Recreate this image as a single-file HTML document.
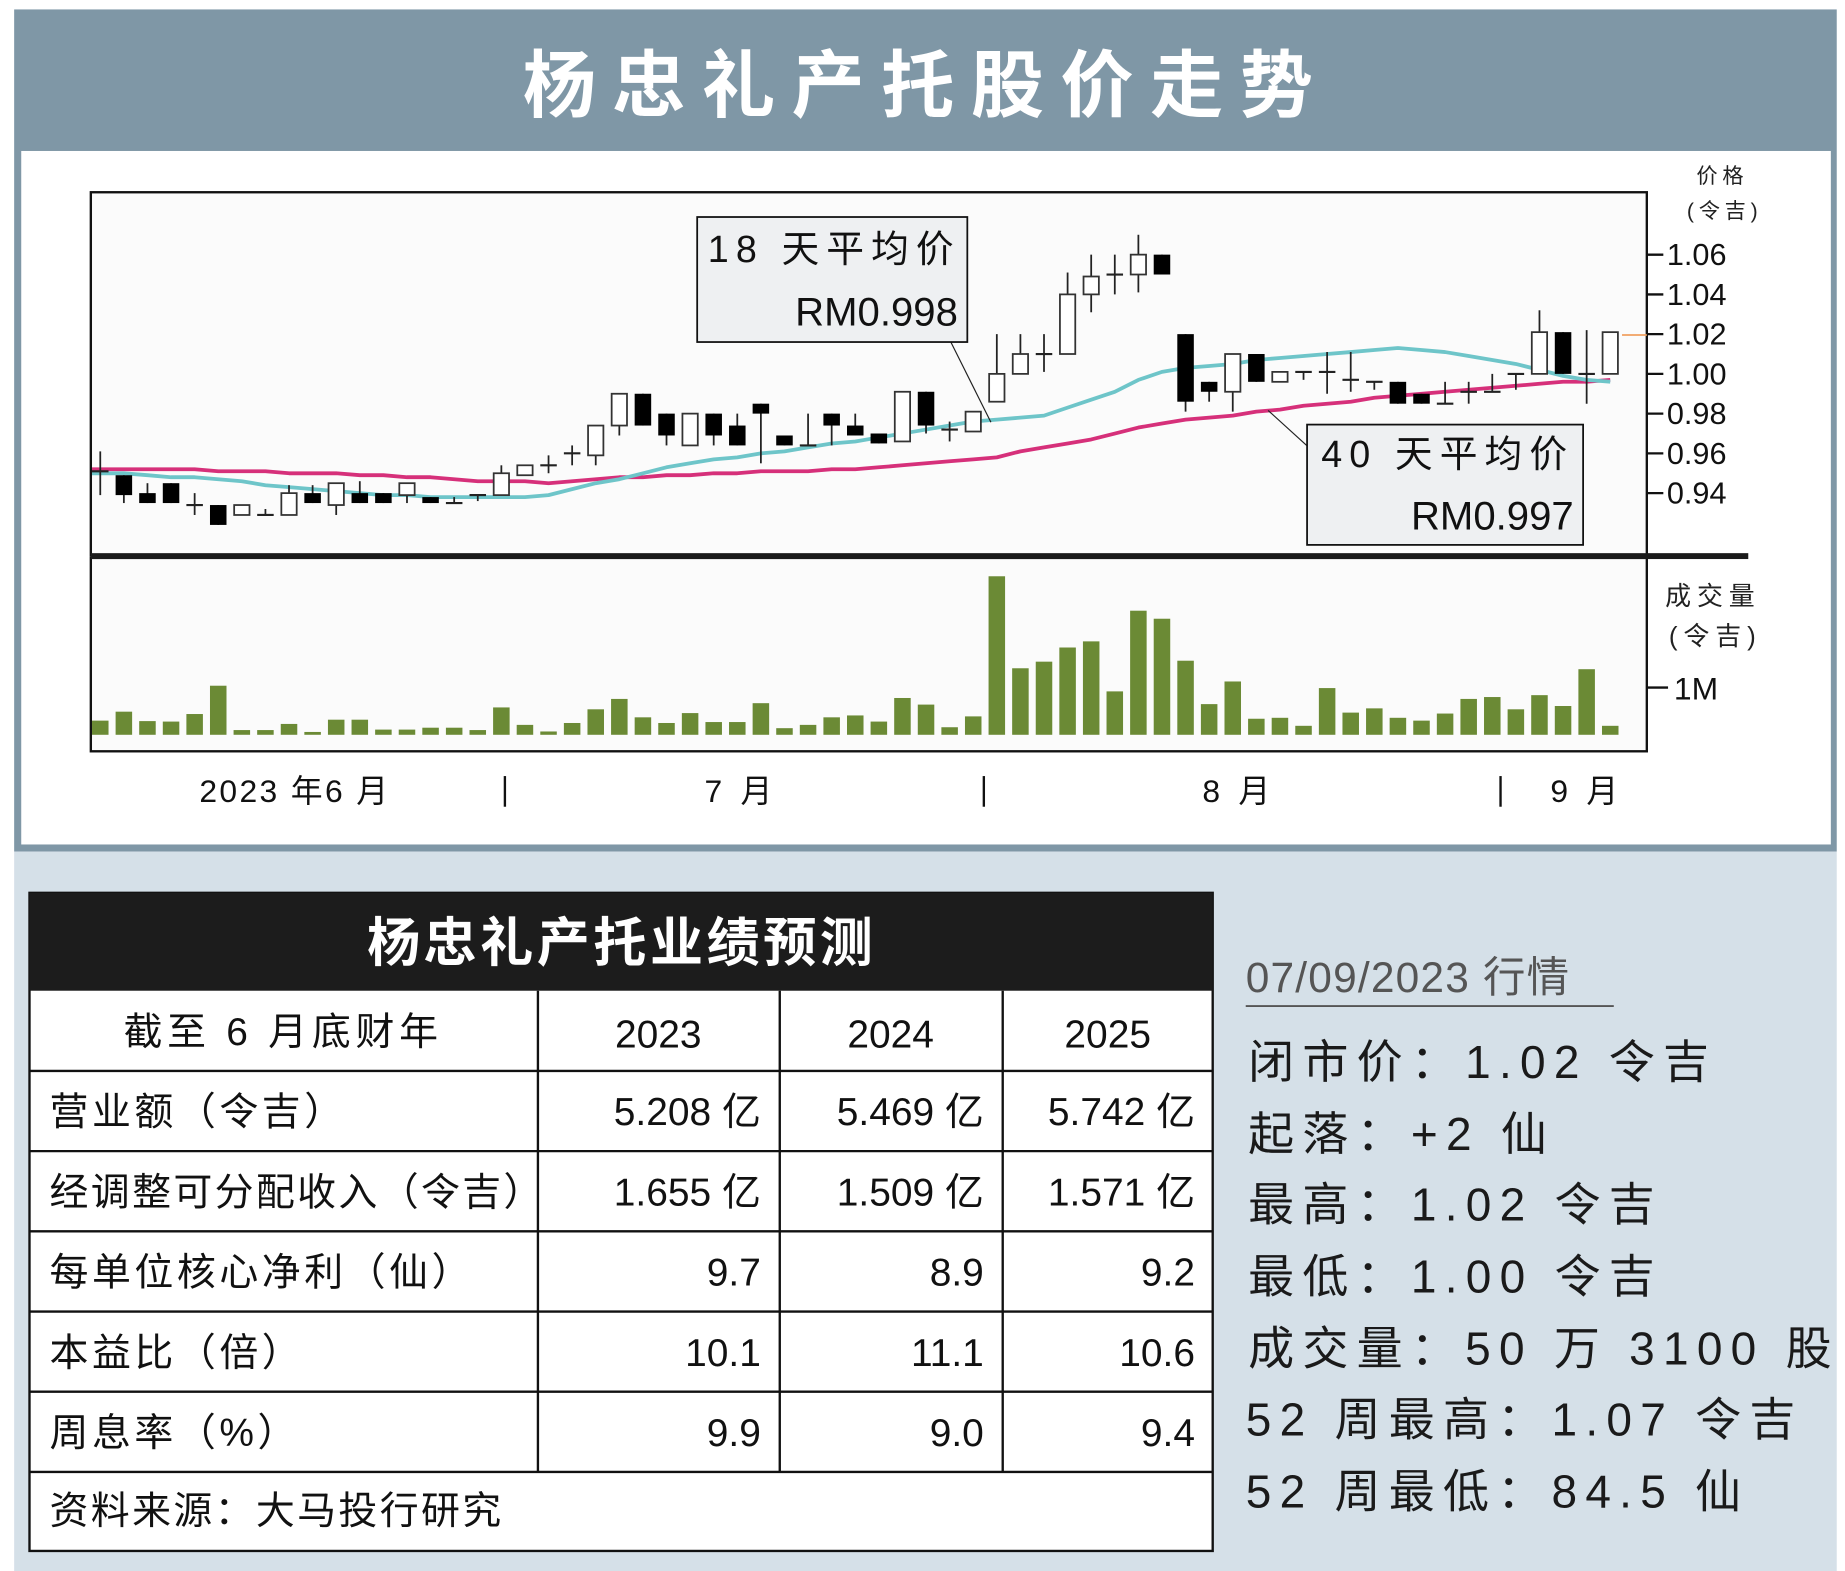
<!DOCTYPE html>
<html><head><meta charset="utf-8"><style>
html,body{margin:0;padding:0;background:#fff;}
svg{display:block;}
text{font-family:"Liberation Sans","Noto Sans CJK SC",sans-serif;}
</style></head><body>
<svg id="root" width="1845" height="1571" viewBox="0 0 1564 1332" preserveAspectRatio="none" xmlns="http://www.w3.org/2000/svg">
  <rect x="0" y="0" width="1564" height="1332" fill="#ffffff"/>
  <rect x="12" y="8" width="1545" height="714" fill="#7f97a6"/>
  <text x="785" y="94" text-anchor="middle" font-size="62" font-weight="bold" fill="#ffffff" letter-spacing="14">杨忠礼产托股价走势</text>
  <rect x="18" y="128" width="1534" height="588" fill="#ffffff"/>
  <rect x="12" y="722" width="1545" height="610" fill="#d5e0e8"/>

  <rect x="77" y="163" width="1319" height="308" fill="#fbfbfb" stroke="#111" stroke-width="2"/>
  <rect x="77" y="473" width="1319" height="164" fill="#fbfbfb" stroke="#111" stroke-width="2"/>
  <g id="yaxis"></g>
  <g id="vaxis"></g>
  <g id="vol"></g>
  <g id="ma"></g>
  <g id="candles"></g>
  <rect x="77" y="469" width="1405" height="5" fill="#1a1a1a"/>
  <line x1="1375" y1="284" x2="1396" y2="284" stroke="#f0a060" stroke-width="1.5"/>

  <text x="1460" y="155" text-anchor="middle" font-size="18" fill="#222" letter-spacing="4">价格</text>
  <text x="1462" y="185" text-anchor="middle" font-size="18" fill="#222" letter-spacing="4">(令吉)</text>
  <text x="1452" y="513" text-anchor="middle" font-size="22" fill="#222" letter-spacing="5">成交量</text>
  <text x="1454" y="547" text-anchor="middle" font-size="22" fill="#222" letter-spacing="5">(令吉)</text>

  <g>
    <line x1="806" y1="290" x2="840" y2="358" stroke="#222" stroke-width="1"/>
    <rect x="591" y="184" width="229" height="106" fill="#eef0f2" stroke="#111" stroke-width="1.5"/>
    <text x="600" y="222" font-size="32" fill="#111" letter-spacing="6">18 天平均价</text>
    <text x="812" y="276" text-anchor="end" font-size="34" fill="#111">RM0.998</text>
  </g>
  <g>
    <line x1="1108" y1="378" x2="1075" y2="348" stroke="#222" stroke-width="1"/>
    <rect x="1108" y="360" width="234" height="102" fill="#eef0f2" stroke="#111" stroke-width="1.5"/>
    <text x="1120" y="396" font-size="32" fill="#111" letter-spacing="6">40 天平均价</text>
    <text x="1334" y="449" text-anchor="end" font-size="34" fill="#111">RM0.997</text>
  </g>

  <g font-size="27" fill="#111">
    <text x="250" y="680" text-anchor="middle" letter-spacing="2">2023 年6 月</text>
    <text x="628" y="680" text-anchor="middle" letter-spacing="4">7 月</text>
    <text x="1050" y="680" text-anchor="middle" letter-spacing="4">8 月</text>
    <text x="1345" y="680" text-anchor="middle" letter-spacing="4">9 月</text>
    <line x1="428" y1="658" x2="428" y2="684" stroke="#111" stroke-width="2"/>
    <line x1="834" y1="658" x2="834" y2="684" stroke="#111" stroke-width="2"/>
    <line x1="1272" y1="658" x2="1272" y2="684" stroke="#111" stroke-width="2"/>
  </g>

  <g>
    <rect x="25" y="757" width="1003" height="558" fill="#ffffff" stroke="#111" stroke-width="2"/>
    <rect x="25" y="757" width="1003" height="83" fill="#1c1c1c"/>
    <text x="527" y="815" text-anchor="middle" font-size="45" font-weight="bold" fill="#fff" letter-spacing="3">杨忠礼产托业绩预测</text>
    <g stroke="#111" stroke-width="2">
      <line x1="25" y1="908" x2="1028" y2="908"/>
      <line x1="25" y1="976" x2="1028" y2="976"/>
      <line x1="25" y1="1044" x2="1028" y2="1044"/>
      <line x1="25" y1="1112" x2="1028" y2="1112"/>
      <line x1="25" y1="1180" x2="1028" y2="1180"/>
      <line x1="25" y1="1248" x2="1028" y2="1248"/>
      <line x1="456" y1="840" x2="456" y2="1248"/>
      <line x1="661" y1="840" x2="661" y2="1248"/>
      <line x1="850" y1="840" x2="850" y2="1248"/>
    </g>
    <g font-size="33" fill="#111">
      <text x="240" y="886" text-anchor="middle" letter-spacing="4">截至 6 月底财年</text>
      <text x="558" y="888" text-anchor="middle">2023</text>
      <text x="755" y="888" text-anchor="middle">2024</text>
      <text x="939" y="888" text-anchor="middle">2025</text>
      <text x="42" y="954" letter-spacing="3">营业额（令吉）</text>
      <text x="645" y="954" text-anchor="end">5.208 亿</text>
      <text x="834" y="954" text-anchor="end">5.469 亿</text>
      <text x="1013" y="954" text-anchor="end">5.742 亿</text>
      <text x="42" y="1022" letter-spacing="2">经调整可分配收入（令吉）</text>
      <text x="645" y="1022" text-anchor="end">1.655 亿</text>
      <text x="834" y="1022" text-anchor="end">1.509 亿</text>
      <text x="1013" y="1022" text-anchor="end">1.571 亿</text>
      <text x="42" y="1090" letter-spacing="3">每单位核心净利（仙）</text>
      <text x="645" y="1090" text-anchor="end">9.7</text>
      <text x="834" y="1090" text-anchor="end">8.9</text>
      <text x="1013" y="1090" text-anchor="end">9.2</text>
      <text x="42" y="1158" letter-spacing="3">本益比（倍）</text>
      <text x="645" y="1158" text-anchor="end">10.1</text>
      <text x="834" y="1158" text-anchor="end">11.1</text>
      <text x="1013" y="1158" text-anchor="end">10.6</text>
      <text x="42" y="1226" letter-spacing="3">周息率（%）</text>
      <text x="645" y="1226" text-anchor="end">9.9</text>
      <text x="834" y="1226" text-anchor="end">9.0</text>
      <text x="1013" y="1226" text-anchor="end">9.4</text>
      <text x="42" y="1292" letter-spacing="2">资料来源：大马投行研究</text>
    </g>
  </g>

  <g fill="#1a1a1a">
    <text x="1056" y="841" font-family="Liberation Serif, Noto Serif CJK SC, serif" font-size="36" fill="#555" letter-spacing="1">07/09/2023 行情</text>
    <line x1="1056" y1="853" x2="1368" y2="853" stroke="#555" stroke-width="1.5"/>
    <g font-size="39" letter-spacing="7">
      <text x="1058" y="914">闭市价：1.02 令吉</text>
      <text x="1058" y="975">起落：+2 仙</text>
      <text x="1058" y="1035">最高：1.02 令吉</text>
      <text x="1058" y="1096">最低：1.00 令吉</text>
      <text x="1058" y="1157">成交量：50 万 3100 股</text>
      <text x="1056" y="1217">52 周最高：1.07 令吉</text>
      <text x="1056" y="1278">52 周最低：84.5 仙</text>
    </g>
  </g>
</svg>
<script>
const priceTicks = [1.06, 1.04, 1.02, 1.00, 0.98, 0.96, 0.94];
const priceTickLabels = ["1.06", "1.04", "1.02", "1.00", "0.98", "0.96", "0.94"];
const volTicks = [1];
const volTickLabels = ["1M"];
const openP  = [0.951,0.949,0.940,0.945,0.934,0.934,0.929,0.929,0.929,0.940,0.934,0.940,0.940,0.939,0.938,0.935,0.939,0.939,0.949,0.954,0.960,0.959,0.974,0.990,0.980,0.964,0.980,0.974,0.985,0.969,0.964,0.980,0.974,0.970,0.966,0.991,0.972,0.971,0.986,1.000,1.010,1.010,1.040,1.050,1.050,1.060,1.020,0.996,0.991,1.010,0.996,1.001,1.001,0.997,0.996,0.996,0.990,0.985,0.991,0.991,1.000,1.000,1.021,1.000,1.000];
const highP  = [0.961,0.949,0.945,0.945,0.940,0.934,0.934,0.932,0.944,0.944,0.945,0.946,0.940,0.945,0.938,0.938,0.939,0.954,0.954,0.959,0.964,0.974,0.990,0.990,0.980,0.980,0.980,0.980,0.985,0.969,0.980,0.980,0.980,0.970,0.991,0.991,0.976,0.981,1.020,1.020,1.020,1.051,1.060,1.060,1.070,1.060,1.020,0.996,1.010,1.010,1.001,1.001,1.011,1.011,0.996,0.996,0.990,0.996,0.996,1.000,1.000,1.032,1.021,1.022,1.021];
const lowP   = [0.939,0.935,0.935,0.935,0.929,0.924,0.929,0.929,0.929,0.935,0.929,0.935,0.935,0.935,0.935,0.935,0.936,0.939,0.949,0.950,0.954,0.954,0.969,0.974,0.964,0.964,0.964,0.964,0.955,0.964,0.964,0.964,0.969,0.965,0.966,0.970,0.966,0.971,0.986,1.000,1.001,1.010,1.031,1.040,1.041,1.050,0.981,0.986,0.981,0.996,0.996,0.997,0.990,0.991,0.992,0.985,0.985,0.985,0.985,0.991,0.992,1.000,1.000,0.985,1.000];
const closeP = [0.951,0.939,0.935,0.935,0.934,0.924,0.934,0.929,0.940,0.935,0.945,0.935,0.935,0.945,0.935,0.935,0.939,0.950,0.954,0.954,0.960,0.974,0.990,0.974,0.969,0.980,0.969,0.964,0.980,0.964,0.964,0.974,0.969,0.965,0.991,0.974,0.972,0.981,1.000,1.010,1.010,1.040,1.049,1.050,1.060,1.050,0.986,0.991,1.010,0.996,1.001,1.001,1.001,0.997,0.996,0.985,0.985,0.985,0.991,0.991,1.000,1.021,1.000,1.000,1.021];
const ma18 = [0.950,0.950,0.949,0.948,0.948,0.947,0.946,0.944,0.943,0.942,0.941,0.940,0.939,0.939,0.938,0.938,0.938,0.938,0.938,0.939,0.942,0.945,0.947,0.950,0.953,0.955,0.957,0.958,0.960,0.961,0.963,0.965,0.966,0.968,0.970,0.972,0.974,0.976,0.977,0.978,0.979,0.983,0.987,0.991,0.997,1.001,1.003,1.004,1.005,1.007,1.008,1.009,1.010,1.011,1.012,1.013,1.012,1.011,1.009,1.007,1.005,1.002,0.999,0.997,0.996];
const ma40 = [0.952,0.952,0.952,0.952,0.952,0.951,0.951,0.951,0.950,0.950,0.950,0.949,0.949,0.948,0.948,0.947,0.946,0.946,0.946,0.945,0.946,0.947,0.948,0.948,0.949,0.949,0.950,0.950,0.951,0.951,0.951,0.952,0.952,0.953,0.954,0.955,0.956,0.957,0.958,0.961,0.963,0.965,0.967,0.970,0.973,0.975,0.977,0.978,0.979,0.981,0.982,0.984,0.985,0.986,0.988,0.989,0.990,0.991,0.992,0.993,0.994,0.995,0.996,0.996,0.997];
const volumeM = [0.30,0.49,0.29,0.28,0.44,1.04,0.10,0.10,0.23,0.06,0.32,0.32,0.11,0.11,0.15,0.15,0.10,0.58,0.21,0.07,0.25,0.54,0.76,0.37,0.25,0.46,0.27,0.27,0.67,0.14,0.21,0.37,0.41,0.28,0.78,0.64,0.16,0.39,3.36,1.41,1.55,1.85,1.98,0.92,2.63,2.46,1.57,0.65,1.13,0.34,0.36,0.19,0.99,0.47,0.56,0.36,0.30,0.45,0.76,0.80,0.54,0.84,0.61,1.39,0.19];

const NS = "http://www.w3.org/2000/svg";
function xPos(i){ return 85 + 20 * i; }
function yPrice(v){ return 317 - (v - 1.00) * 1685; }
function yVol(m){ return 623 - 40 * m; }
function mk(tag, attrs, parent){
  const el = document.createElementNS(NS, tag);
  for (const k in attrs) el.setAttribute(k, attrs[k]);
  parent.appendChild(el);
  return el;
}

const yaxis = document.getElementById('yaxis');
priceTicks.forEach((t, k) => {
  const ln = mk('line', {x1:1396, x2:1410, y1:yPrice(t), y2:yPrice(t), stroke:'#111', 'stroke-width':2}, yaxis);
  
  
  const tx = mk('text', {x:1413, y:yPrice(t)+9, 'font-size':26, fill:'#111'}, yaxis);
  tx.textContent = priceTickLabels[k];
  
  
});
const vaxis = document.getElementById('vaxis');
volTicks.forEach((t, k) => {
  const ln = mk('line', {x1:1396, x2:1414, y1:yVol(t), y2:yVol(t), stroke:'#111', 'stroke-width':2}, vaxis);
  
  
  const tx = mk('text', {x:1419, y:yVol(t)+10, 'font-size':27, fill:'#111'}, vaxis);
  tx.textContent = volTickLabels[k];
  
  
});

const vol = document.getElementById('vol');
volumeM.forEach((m, i) => {
  const y = yVol(m);
  const r = mk('rect', {x:xPos(i)-7, y:y, width:14, height:Math.max(623-y, 1), fill:'#6b8a35'}, vol);
  
  
});

const ma = document.getElementById('ma');
function line(arr, color, name){
  const d = arr.map((v, i) => (i ? 'L' : 'M') + xPos(i) + ' ' + yPrice(v).toFixed(1)).join(' ');
  const p = mk('path', {d:'M78 ' + yPrice(arr[0]).toFixed(1) + ' ' + d.slice(1).replace(/^[^L]*/, m => 'L' + m), fill:'none', stroke:color, 'stroke-width':3.2, 'stroke-linejoin':'round'}, ma);
  
  
}
line(ma40, '#d6307a', 'ma40-line');
line(ma18, '#6ec5c9', 'ma18-line');

const cg = document.getElementById('candles');
openP.forEach((o, i) => {
  const c = closeP[i], h = highP[i], l = lowP[i], x = xPos(i);
  const g = mk('g', {}, cg);
  
  
  mk('line', {x1:x, x2:x, y1:yPrice(h), y2:yPrice(l), stroke:'#222', 'stroke-width':1.5}, g);
  const top = yPrice(Math.max(o, c)), bot = yPrice(Math.min(o, c));
  if (Math.abs(o - c) < 0.0005) {
    mk('line', {x1:x-7, x2:x+7, y1:top, y2:top, stroke:'#222', 'stroke-width':1.8}, g);
  } else if (c > o) {
    mk('rect', {x:x-6.5, y:top, width:13, height:bot-top, fill:'#ffffff', stroke:'#333', 'stroke-width':1.5}, g);
  } else {
    mk('rect', {x:x-7, y:top, width:14, height:bot-top, fill:'#000000'}, g);
  }
});
</script>
</body></html>
